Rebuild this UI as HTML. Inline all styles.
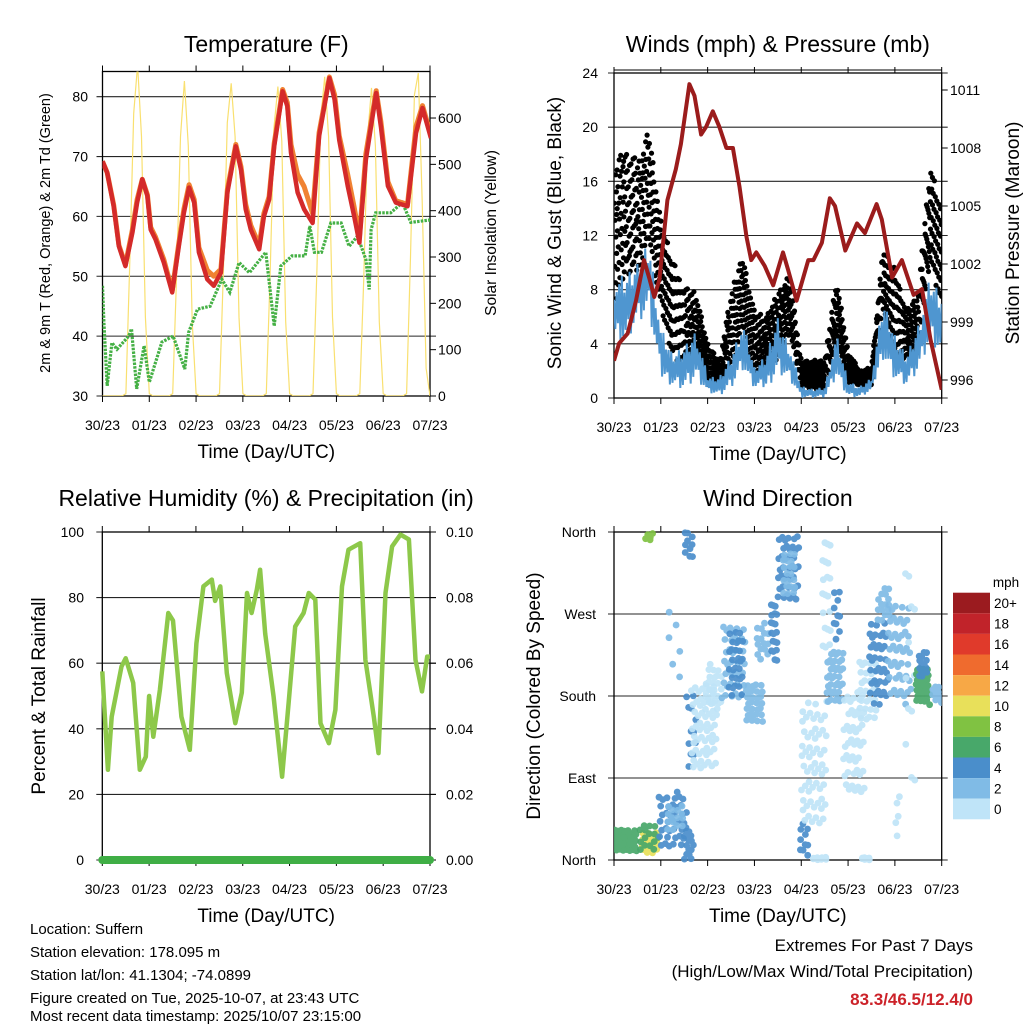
<!DOCTYPE html>
<html><head><meta charset="utf-8"><style>
body{margin:0;background:#fff}
svg{display:block;font-family:"Liberation Sans",Arial,sans-serif}
</style></head><body>
<svg id="root" width="1024" height="1024" viewBox="0 0 1024 1024" xmlns="http://www.w3.org/2000/svg">
<defs>
<clipPath id="c1"><rect x="102.5" y="71.5" width="327.5" height="324.5"/></clipPath>
<clipPath id="c2"><rect x="614" y="70" width="327.7" height="330"/></clipPath>
<clipPath id="c3"><rect x="95" y="525" width="345" height="345"/></clipPath>
<clipPath id="c4"><rect x="614" y="528" width="327.7" height="336"/></clipPath>
</defs>
<g id="g1"></g>
<g id="g2"></g>
<g id="g3"></g>
<g id="g4"></g>
<g font-size="15" fill="#000">
<text x="30" y="934">Location: Suffern</text>
<text x="30" y="957">Station elevation: 178.095 m</text>
<text x="30" y="980">Station lat/lon: 41.1304; -74.0899</text>
<text x="30" y="1003">Figure created on Tue, 2025-10-07, at 23:43 UTC</text>
<text x="30" y="1021">Most recent data timestamp: 2025/10/07 23:15:00</text>
</g>
<g text-anchor="end">
<text x="973" y="951" font-size="17">Extremes For Past 7 Days</text>
<text x="973" y="977" font-size="17">(High/Low/Max Wind/Total Precipitation)</text>
<text x="973" y="1005" font-size="17" font-weight="bold" fill="#cc2229">83.3/46.5/12.4/0</text>
</g>
</svg>
<script>
// ---------- DATA ----------
const XTICKS = ["30/23","01/23","02/23","03/23","04/23","05/23","06/23","07/23"];
const T_TIME = [0,0.1,0.24,0.35,0.49,0.64,0.74,0.85,0.96,1.03,1.13,1.31,1.49,1.63,1.74,1.85,1.96,2.06,2.24,2.38,2.53,2.67,2.85,2.96,3.06,3.17,3.35,3.45,3.56,3.67,3.85,3.95,4.03,4.17,4.31,4.49,4.63,4.85,4.96,5.06,5.24,5.38,5.49,5.63,5.85,5.95,6.1,6.27,6.52,6.7,6.84,7.02];
const T_RED = [69.2,67.3,61.7,55,51.7,57.3,62.3,66.2,63.4,57.8,56.2,52.3,47.3,55,60.6,64.8,62.3,54,49.5,48.4,50.6,64,71.7,67.8,61.2,57.8,54.5,60,62.8,71.7,80.9,78.4,70.6,64,61.2,58.9,73.4,83.1,79.5,72.8,65.1,60,55.6,69.5,80.6,75,65.1,62.3,61.7,73.9,78.1,73.1];
const T_ORANGE = [69.2,67.3,61.9,55.2,51.9,57.8,62.8,66.2,63.6,58.2,56.6,52.8,47.6,55.5,61.2,65.3,62.8,54.8,51,50,51.2,64.5,72,68.3,62,58.5,55.2,60.5,63.3,72.2,81.2,79,72,67,65,60.5,74,83.3,80.3,73.5,67,61.5,56.5,70.5,81,75.8,65.8,62.6,62,75,78.5,73.6];
const TD_TIME = [0,0.03,0.1,0.2,0.31,0.56,0.62,0.73,0.89,1.0,1.27,1.51,1.76,1.84,2.03,2.3,2.55,2.72,2.92,3.14,3.49,3.67,3.81,4.05,4.33,4.43,4.53,4.68,4.88,5.1,5.27,5.45,5.63,5.7,5.74,5.84,6.16,6.41,6.59,7.0];
const TD_VAL = [48.4,42.3,31.7,38.9,37.8,40,41.2,31.2,38.4,32.3,39,40,34.5,40.6,44.5,45,49.5,47.3,52.3,50.6,54,41.7,51.7,53.4,53.4,58.4,54,54,58.9,58.9,55,56.7,52.8,47.8,57.8,60.6,60.6,62.3,59,59.4];
const SOLAR = [
0,0,0,0,0,0,5,290,610,715,560,170,
5,0,0,0,0,0,5,260,560,680,540,160,
5,0,0,0,0,0,5,270,590,675,560,170,
5,0,0,0,0,0,5,260,580,668,550,160,
5,0,0,0,0,0,5,270,600,689,560,170,
5,0,0,0,0,0,5,250,560,665,540,160,
5,0,0,0,0,0,5,300,650,697,420,60,0];
const SOL_TICKS = [0,100,200,300,400,500,600];
const T_TICKS = [30,40,50,60,70,80];

const P_TIME = [0,0.11,0.29,0.47,0.64,0.75,0.86,0.97,1.14,1.32,1.43,1.61,1.72,1.86,1.97,2.11,2.25,2.4,2.54,2.68,2.83,2.93,3.04,3.22,3.4,3.61,3.72,3.9,4.15,4.26,4.44,4.61,4.72,4.94,5.19,5.36,5.61,5.72,5.94,6.15,6.4,6.58,6.76,7.0];
const P_VAL = [997,997.9,998.4,1000.1,1002.2,1001.3,1000.3,1001.2,1005.3,1006.9,1008.2,1011.3,1010.7,1008.7,1009.1,1009.9,1009.1,1008,1008,1006,1003.4,1002.2,1002.6,1001.9,1000.9,1002.6,1001.7,1000.1,1002.2,1002.2,1003.1,1005.4,1005,1002.7,1004.1,1003.6,1005.1,1004.3,1001.3,1002.2,1000.4,1000.7,998.1,995.5];
const W_TIME = [0,0.25,0.5,0.75,1,1.25,1.5,1.75,2,2.25,2.5,2.75,3,3.25,3.5,3.75,4,4.25,4.5,4.75,5,5.25,5.5,5.75,6,6.25,6.5,6.75,7];
const GUST_HI = [17.6,18.4,17.6,20,13.2,10.2,8.3,7.8,4,2.8,7.8,10.7,6.5,6,7.8,9.2,2.8,2.8,2.8,9,3.5,2,2.3,11.2,9.7,6.5,7.8,17.6,13.9];
const GUST_LO = [6.5,9,9,11.5,6.5,2.8,1.8,3.3,0.9,0.9,1.6,5.3,1.6,2.3,2.8,4.8,0.9,0.6,0.6,4,1.1,0.9,0.9,6.5,2.8,2.8,3.3,10.2,6.5];
const WIND_HI = [9,9.2,10.2,12.2,5.3,3.3,4,5.3,1.6,1.6,3.3,5.8,2.3,3.3,6.3,4,0.9,0.7,0.9,4.8,1.3,0.9,1.6,7.3,4.8,3.3,5.8,9,7.8];
const WIND_LO = [4,3.8,5.3,5.8,1.3,0.9,0.6,1.3,0.4,0.1,0.6,1.8,0.6,0.6,1.8,1.3,0,0,0,1.3,0,0,0.4,2.8,1.3,0.9,1.8,4,2.8];
const W_TICKS = [0,4,8,12,16,20,24];
const P_TICKS = [996,999,1002,1005,1008,1011];

const RH_TIME = [0,0.12,0.2,0.41,0.5,0.66,0.8,0.93,1.0,1.09,1.23,1.41,1.51,1.69,1.87,2.01,2.16,2.34,2.41,2.52,2.66,2.84,2.98,3.09,3.19,3.3,3.37,3.48,3.66,3.84,3.98,4.12,4.3,4.41,4.55,4.66,4.84,4.98,5.12,5.26,5.51,5.62,5.8,5.9,6.05,6.19,6.37,6.55,6.69,6.83,6.94,7.0];
const RH_VAL = [57.5,27.5,43.7,59,61.5,54,27.5,31.5,50,37.6,51.9,75.3,73,43.7,33.6,66,83.4,85.5,79,83.4,57,41.7,51,81.4,75.3,82.4,88.5,69,49.8,25.4,47.8,71.2,75.3,81.4,79.4,41.7,35.6,45.8,83.4,94.6,96.6,61,43.7,32.6,81.4,95.6,99.2,97.7,61,51.4,62,62];
const PRECIP = [0,0,0,0,0,0,0,0];
const RH_TICKS = [0,20,40,60,80,100];
const PR_TICKS = ["0.00","0.02","0.04","0.06","0.08","0.10"];

const D_T0 = [0.0,0.55,0.55,0.65,0.95,1.1,1.5,1.5,1.55,1.65,1.95,2.3,2.45,2.8,3.0,3.35,3.5,3.6,3.95,4.0,4.2,4.45,4.55,4.7,4.9,5.3,5.2,5.45,5.6,5.85,6.2,6.45,6.5,6.75,1.15,6.0];
const D_T1 = [0.5,0.95,0.95,0.85,1.55,1.5,1.7,1.7,1.75,2.2,2.3,2.8,2.75,3.2,3.3,3.5,3.95,3.9,4.15,4.55,4.55,4.65,4.9,4.85,5.35,5.5,5.6,5.85,5.9,6.35,6.45,6.75,6.7,7.0,1.45,6.1];
const D_LO = [10,5,10,350,15,30,0,330,100,100,165,175,180,150,220,215,280,290,0,40,0,230,170,240,70,0,150,170,260,170,70,170,200,170,180,20];
const D_HI = [35,30,40,360,75,60,35,360,190,195,215,260,250,195,260,285,355,340,40,175,3,360,230,300,185,3,220,260,300,280,330,210,230,190,280,70];
const D_SPD = [6,9,6,8,3,2,4,4,4,0.5,0.5,2,4,2,2,3,4,2,4,0.5,0.5,0.5,2,4,0.5,0.5,0.5,4,2,2,0.5,6,4,2,2,0.5];
const D_N = [45,20,15,5,40,15,15,10,12,60,25,40,30,30,15,20,40,20,10,60,10,20,40,10,45,8,30,40,15,45,12,35,15,10,6,5];
const CB_LABELS = ["0","2","4","6","8","10","12","14","16","18","20+"];
const CB_COLORS = ["#bfe4f8","#80bbe6","#4a8ecb","#48a86a","#80c242","#e8e05a","#f7a846","#ef6b2e","#e03a2b","#c1232a","#9b1b1f"];
const D_TICKS = ["North","East","South","West","North"];

// ---------- HELPERS ----------
const NS="http://www.w3.org/2000/svg";
const A1=0.7548776662, A2=0.5698402910;
function mk(parent,tag,attrs,txt){const e=document.createElementNS(NS,tag);for(const k in attrs)e.setAttribute(k,attrs[k]);if(txt!==undefined)e.textContent=txt;parent.appendChild(e);return e;}
function lineScale(d0,d1,r0,r1){return v=>r0+(v-d0)*(r1-r0)/(d1-d0);}
function interp(ts,vs,t){if(t<=ts[0])return vs[0];for(let i=1;i<ts.length;i++){if(t<=ts[i]){const f=(t-ts[i-1])/(ts[i]-ts[i-1]);return vs[i-1]+f*(vs[i]-vs[i-1]);}}return vs[vs.length-1];}

function frame(g,x0,x1,y0,y1,title,tyTitle){
  const r=mk(g,'rect',{x:x0,y:y0,width:x1-x0,height:y1-y0,fill:'none',stroke:'#000','stroke-width':1.3});
  
  
  const t=mk(g,'text',{x:(x0+x1)/2,y:tyTitle,'font-size':23,'text-anchor':'middle'},title);
  
  
  const xs=lineScale(0,7,x0,x1);
  XTICKS.forEach((lab,i)=>{
    const x=xs(i);
    const tk=mk(g,'line',{x1:x,x2:x,y1:y0-6,y2:y0,stroke:'#000','stroke-width':1});
    
    
    const tb=mk(g,'line',{x1:x,x2:x,y1:y1,y2:y1+6,stroke:'#000','stroke-width':1});
    
    
    const tl=mk(g,'text',{x:x,y:y1+34,'font-size':14,'text-anchor':'middle'},lab);
    
    
  });
  const xl=mk(g,'text',{x:(x0+x1)/2,y:y1+62,'font-size':19,'text-anchor':'middle'},'Time (Day/UTC)');
  
  
  return xs;
}
function hgrid(g,x0,x1,y,lab,side,lx){
  const l=mk(g,'line',{x1:x0-6,x2:x1+6,y1:y,y2:y,stroke:'#000','stroke-width':1.1,opacity:0.85});
  
  
  const t=mk(g,'text',{x:lx,y:y+5,'font-size':14,'text-anchor':side},lab);
  
  
}
function rtick(g,x1,y,lab,lx){
  const l=mk(g,'line',{x1:x1,x2:x1+6,y1:y,y2:y,stroke:'#000','stroke-width':1});
  
  
  const t=mk(g,'text',{x:lx,y:y+5,'font-size':14,'text-anchor':'start'},lab);
  
  
}
function vlabel(g,x,y,txt,fs){
  const t=mk(g,'text',{x:x,y:y,'font-size':fs,'text-anchor':'middle',transform:`rotate(-90 ${x} ${y})`},txt);
  
  
}
function pathOf(ts,vs,xs,ys){return ts.map((t,i)=>(i?'L':'M')+xs(t).toFixed(1)+','+ys(vs[i]).toFixed(1)).join('');}

// ---------- PANEL 1 ----------
(function(){
  const g=document.getElementById('g1');
  const x0=102.5,x1=430,y0=71.5,y1=396;
  const xs=frame(g,x0,x1,y0,y1,'Temperature (F)',52);
  const ys=lineScale(30,84.2,y1,y0);
  const ss=lineScale(0,700,y1,y1-700*0.4633);
  T_TICKS.forEach(v=>hgrid(g,x0,x1,ys(v),String(v),'end',88));
  SOL_TICKS.forEach(v=>rtick(g,x1,ss(v),String(v),438));
  vlabel(g,50,233,'2m & 9m T (Red, Orange) & 2m Td (Green)',14.5);
  vlabel(g,496,233,'Solar Insolation (Yellow)',15.5);
  const c=mk(g,'g',{'clip-path':'url(#c1)'});
  const sT=SOLAR.map((v,i)=>i/12);
  const sol=mk(c,'path',{d:pathOf(sT,SOLAR,xs,ss),fill:'none',stroke:'#f9e070','stroke-width':1.2});
  
  
  const dew=mk(c,'path',{d:pathOf(TD_TIME,TD_VAL,xs,ys),fill:'none',stroke:'#45b045','stroke-width':3.2,'stroke-dasharray':'2.5 1.2'});
  
  
  const or=mk(c,'path',{d:pathOf(T_TIME,T_ORANGE,xs,ys),fill:'none',stroke:'#f08232','stroke-width':5,'stroke-linejoin':'round'});
  
  
  const rd=mk(c,'path',{d:pathOf(T_TIME,T_RED,xs,ys),fill:'none',stroke:'#d42a2a','stroke-width':4.5,'stroke-linejoin':'round'});
  
  
})();

// ---------- PANEL 2 ----------
(function(){
  const g=document.getElementById('g2');
  const x0=614,x1=941.7,y0=73,y1=398;
  const xs=frame(g,x0,x1,y0,y1,'Winds (mph) & Pressure (mb)',52);
  const ys=lineScale(0,24,y1,y0);
  const ps=lineScale(996,1011,380,90);
  W_TICKS.forEach(v=>hgrid(g,x0,x1,ys(v),String(v),'end',598));
  const top=mk(g,'line',{x1:x0,x2:x1,y1:70,y2:70,stroke:'#000','stroke-width':1});
  
  
  P_TICKS.forEach(v=>rtick(g,x1,ps(v),String(v),950));
  vlabel(g,561,233,'Sonic Wind & Gust (Blue, Black)',19);
  vlabel(g,1019,233,'Station Pressure (Maroon)',19);
  const c=mk(g,'g',{'clip-path':'url(#c2)'});
  const gg=mk(c,'g',{fill:'#000'});
  
  
  for(let j=0;j<1300;j++){
    const u=(0.5+j*A1)%1, w=(0.5+j*A2)%1;
    const t=u*7;
    const lo=interp(W_TIME,GUST_LO,t),hi=interp(W_TIME,GUST_HI,t);
    const v=lo+w*(hi-lo);
    mk(gg,'circle',{cx:xs(t).toFixed(1),cy:ys(v).toFixed(1),r:2.6});
  }
  let pts=[];let k=0;
  for(let x=xs(0);x<=xs(7);x+=1.3){
    const t=(x-x0)/(x1-x0)*7;
    const lo=interp(W_TIME,WIND_LO,t),hi=interp(W_TIME,WIND_HI,t);
    const f=(k%2)?((k*A2)%0.35):(0.65+(k*A1)%0.35);
    pts.push(x.toFixed(1)+','+ys(lo+f*(hi-lo)).toFixed(1));k++;
  }
  const bl=mk(c,'polyline',{points:pts.join(' '),fill:'none',stroke:'#4f96d0','stroke-width':2});
  
  
  const pr=mk(c,'path',{d:pathOf(P_TIME,P_VAL,xs,ps),fill:'none',stroke:'#9b1c1c','stroke-width':4,'stroke-linejoin':'round'});
  
  
})();

// ---------- PANEL 3 ----------
(function(){
  const g=document.getElementById('g3');
  const x0=102.3,x1=430,y0=532,y1=860;
  const xs=frame(g,x0,x1,y0,y1,'Relative Humidity (%) & Precipitation (in)',506);
  const ys=lineScale(0,100,y1,y0);
  const prs=lineScale(0,0.1,y1,y0);
  RH_TICKS.forEach((v,i)=>{hgrid(g,x0,x1,ys(v),String(v),'end',84);rtick(g,x1,ys(v),PR_TICKS[i],446);});
  vlabel(g,45,696,'Percent & Total Rainfall',19);
  const c=mk(g,'g',{'clip-path':'url(#c3)'});
  const pT=PRECIP.map((v,i)=>i);
  const pp=mk(c,'path',{d:pathOf(pT,PRECIP,xs,prs),fill:'none',stroke:'#3fae45','stroke-width':8,'stroke-linecap':'round'});
  
  
  const rh=mk(c,'path',{d:pathOf(RH_TIME,RH_VAL,xs,ys),fill:'none',stroke:'#8dc84a','stroke-width':4.5,'stroke-linejoin':'round'});
  
  
})();

// ---------- PANEL 4 ----------
(function(){
  const g=document.getElementById('g4');
  const x0=614,x1=941.7,y0=532,y1=860;
  const xs=frame(g,x0,x1,y0,y1,'Wind Direction',506);
  const ds=lineScale(0,360,y1,y0);
  D_TICKS.forEach((lab,i)=>hgrid(g,x0,x1,ds(i*90),lab,'end',596));
  vlabel(g,540,696,'Direction (Colored By Speed)',19);
  const c=mk(g,'g',{'clip-path':'url(#c4)'});
  D_T0.forEach((t0,ci)=>{
    const cg=mk(c,'g',{fill:CB_COLORS[Math.min(10,Math.round(D_SPD[ci]/2))],opacity:0.92});
    
    
    for(let j=0;j<D_N[ci];j++){
      const u=(0.5+j*A1+ci*0.37)%1, w=(0.5+j*A2+ci*0.21)%1;
      const t=t0+u*(D_T1[ci]-t0), d=D_LO[ci]+w*(D_HI[ci]-D_LO[ci]);
      mk(cg,'circle',{cx:xs(t).toFixed(1),cy:ds(d).toFixed(1),r:3.4});
    }
  });
  const cb=mk(g,'g',{});
  
  
  const cbTop=592.7,h=20.6;
  const mph=mk(cb,'text',{x:1006,y:587,'font-size':13.5,'text-anchor':'middle'},'mph');
  
  
  for(let i=0;i<11;i++){
    const idx=10-i;
    const r=mk(cb,'rect',{x:953,y:cbTop+i*h,width:37,height:h,fill:CB_COLORS[idx]});
    
    
    const t=mk(cb,'text',{x:994,y:cbTop+i*h+h/2+5,'font-size':13.5},CB_LABELS[idx]);
    
    
  }
})();
</script>
</body></html>
